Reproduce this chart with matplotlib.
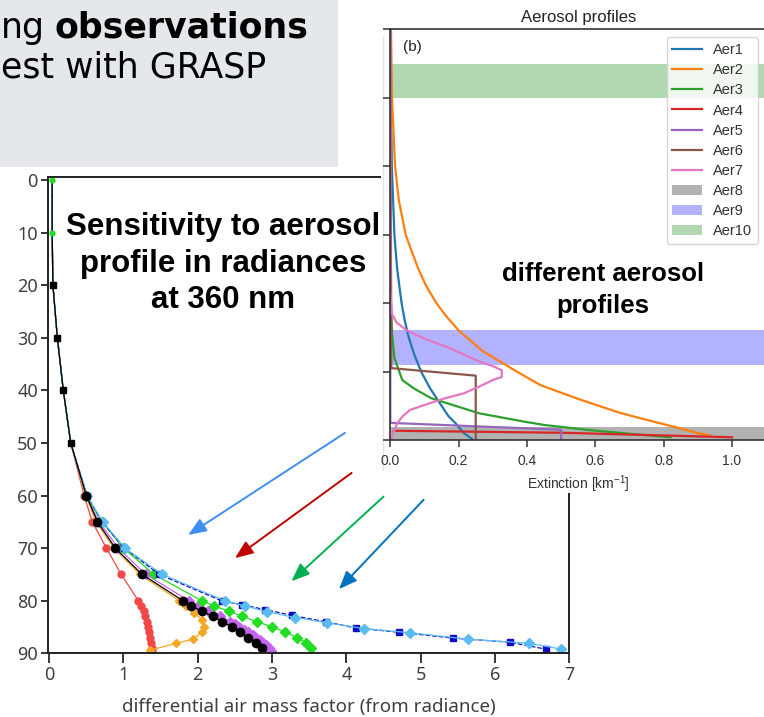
import matplotlib
matplotlib.use("Agg")
import matplotlib.pyplot as plt
from matplotlib.patches import Rectangle
from matplotlib.lines import Line2D

W, H = 764, 717

# ---- left panel: differential AMF vs level (0 = top of the profile) ----
top_levels = [0, 10, 20, 30, 40, 50]
top_amf = [0.04, 0.04, 0.05, 0.11, 0.19, 0.29]

red_levels = [60, 65, 70, 75, 80, 81, 82, 83, 84, 85, 86, 87, 88, 89, 89.5]
red_amf = [0.47, 0.58, 0.77, 0.97, 1.20, 1.24, 1.27, 1.29, 1.32, 1.33, 1.35, 1.36, 1.37, 1.38, 1.39]

orange_levels = [60, 65, 70, 75, 80, 81, 82.4, 83.6, 85, 86, 87.3, 88.1, 89.4]
orange_amf = [0.49, 0.63, 0.87, 1.22, 1.75, 1.84, 1.95, 2.06, 2.09, 2.06, 1.93, 1.71, 1.36]

purple_levels = [60, 65, 70, 75, 80, 81, 82, 83, 84, 84.5, 85, 85.5, 86, 86.5, 87, 87.5, 88, 88.5, 89, 89.5]
purple_amf = [0.50, 0.67, 0.93, 1.30, 1.88, 2.00, 2.14, 2.30, 2.44, 2.50, 2.56, 2.62, 2.68, 2.74,
              2.79, 2.84, 2.88, 2.92, 2.96, 2.99]

green_levels = [60, 65, 70, 75, 80, 81, 82, 83, 84, 85, 86, 87, 88, 89]
green_amf = [0.50, 0.71, 1.00, 1.41, 2.05, 2.22, 2.42, 2.60, 2.80, 3.00, 3.18, 3.34, 3.46, 3.52]

darkblue_levels = [60, 65, 70, 75, 80, 80.8, 81.7, 82.8, 84.0, 85.2, 86.0, 87.1, 87.9, 89.2]
darkblue_amf = [0.51, 0.71, 1.01, 1.48, 2.32, 2.60, 2.91, 3.27, 3.72, 4.13, 4.71, 5.43, 6.20, 6.68]

lightblue_levels = [60, 65, 70, 75, 80, 81, 82.1, 83.2, 84.2, 85.3, 86.1, 87.3, 88.1, 89.2]
lightblue_amf = [0.51, 0.72, 1.02, 1.52, 2.36, 2.64, 2.93, 3.31, 3.74, 4.24, 4.86, 5.63, 6.46, 6.89]

black_levels = [60, 65, 70, 75, 80, 81, 82, 83, 84, 85, 86, 87, 88, 89]
black_amf = [0.50, 0.65, 0.89, 1.25, 1.80, 1.91, 2.06, 2.20, 2.33, 2.46, 2.57, 2.67, 2.78, 2.87]

# arrows (start, tip) in data coords of the left panel
arrows = [((3.98, 48.1), (1.87, 67.5), '#3f8ef0'),
          ((4.07, 55.7), (2.50, 71.9), '#c00000'),
          ((4.50, 60.2), (3.26, 76.3), '#00b050'),
          ((5.04, 60.8), (3.90, 77.8), '#0070c0')]

# ---- right panel: aerosol extinction profiles (altitude in km) ----
aer1_alt = [0.02, 0.1, 0.25, 0.35, 0.5, 0.75, 1.0, 1.25, 1.5, 1.75, 2.0, 2.5, 3.0, 4.0, 5.0, 6.0]
aer1_ext = [0.238, 0.215, 0.19, 0.17, 0.15, 0.117, 0.090, 0.070, 0.054, 0.042, 0.033, 0.020, 0.012,
            0.0045, 0.0017, 0.0006]
aer2_alt = [0.07, 0.1, 0.17, 0.32, 0.4, 0.5, 0.6, 0.8, 1.0, 1.15, 1.3, 1.45, 1.6, 1.8, 2.0, 2.25,
            2.5, 2.75, 3.0, 3.5, 4.0, 5.0, 6.0]
aer2_ext = [0.936, 0.90, 0.848, 0.73, 0.67, 0.61, 0.55, 0.44, 0.37, 0.32, 0.27, 0.235, 0.20, 0.165,
            0.135, 0.105, 0.082, 0.063, 0.045, 0.025, 0.014, 0.005, 0.002]
aer3_alt = [0.04, 0.073, 0.146, 0.22, 0.27, 0.39, 0.5, 0.61, 0.75, 0.876, 1.2, 1.56, 2.0, 3.0, 6.0]
aer3_ext = [0.82, 0.74, 0.58, 0.45, 0.39, 0.26, 0.19, 0.12, 0.07, 0.035, 0.012, 0.005, 0.002, 0.0005, 0.0]
aer4_alt = [0.135, 0.106, 0.04]
aer4_ext = [0.01, 0.5, 1.0]
aer5_alt = [6.0, 0.25, 0.15, 0.02]
aer5_ext = [0.0, 0.0, 0.5, 0.5]
aer6_alt = [6.0, 1.05, 0.94, 0.02]
aer6_ext = [0.0, 0.003, 0.25, 0.25]
aer7_alt = [0.0, 0.05, 0.24, 0.34, 0.44, 0.54, 0.61, 0.68, 0.78, 0.876, 0.92, 1.02, 1.08, 1.14,
            1.25, 1.36, 1.48, 1.6, 1.72, 1.85, 2.2, 6.0]
aer7_ext = [0.003, 0.005, 0.02, 0.035, 0.058, 0.117, 0.16, 0.214, 0.26, 0.30, 0.326, 0.326, 0.30,
            0.263, 0.215, 0.165, 0.10, 0.048, 0.018, 0.004, 0.0, 0.0]
aer8_band = (0.0, 0.19)
aer9_band = (1.1, 1.6)
aer10_band = (5.0, 5.5)

plt.rcParams['font.family'] = ['Liberation Sans', 'DejaVu Sans']
plt.rcParams['mathtext.default'] = 'regular'


def px_axes(x0, y0, x1, y1):
    return [x0 / W, 1 - y1 / H, (x1 - x0) / W, (y1 - y0) / H]


fig = plt.figure(figsize=(W / 100, H / 100), dpi=100)

# slide title box (top left)
fig.patches.append(Rectangle((0, 1 - 167 / H), 338 / W, 167 / H, transform=fig.transFigure,
                             facecolor='#e4e8eb', edgecolor='none', zorder=0))
fig.text(1 / W, 1 - 38 / H, 'ng', fontsize=25, family='DejaVu Sans', va='baseline', zorder=0.5)
fig.text(54 / W, 1 - 38 / H, 'observations', fontsize=25, family='DejaVu Sans',
         fontweight='bold', va='baseline', zorder=0.5)
fig.text(1 / W, 1 - 77 / H, 'est with GRASP', fontsize=25, family='DejaVu Sans',
         va='baseline', zorder=0.5)

# ---------------- left panel ----------------
ax = fig.add_axes(px_axes(47.7, 177.1, 569.3, 653.3), zorder=1)
ax.set_facecolor('none')


def draw_series(levels, amf, color, marker, ms, ls='-'):
    n0 = len(top_levels)
    ax.plot(top_amf + amf, top_levels + levels, color=color, lw=0.9, ls=ls, marker=marker,
            ms=ms, mfc=color, mec=color, markevery=list(range(n0, n0 + len(amf))))


draw_series(red_levels, red_amf, '#f04848', 'o', 5)
draw_series(orange_levels, orange_amf, '#f5a623', 'D', 4.5)
draw_series(purple_levels, purple_amf, '#c464f0', 'D', 5.5)
draw_series(green_levels, green_amf, '#22dd22', 'D', 5)
draw_series(darkblue_levels, darkblue_amf, '#0c0cc4', 's', 5, ls='--')
draw_series(lightblue_levels, lightblue_amf, '#5bbcf2', 'D', 5.5)
draw_series(black_levels, black_amf, 'black', 'o', 6)
ax.plot(top_amf, top_levels, ls='none', marker='o', ms=3.5, color='#22dd22')
ax.plot(top_amf[2:], top_levels[2:], ls='none', marker='s', ms=4.5, color='black')

for start, tip, col in arrows:
    ax.annotate('', xy=tip, xytext=start, annotation_clip=False,
                arrowprops=dict(arrowstyle='-|>,head_length=0.55,head_width=0.22',
                                color=col, lw=1.4, mutation_scale=20,
                                shrinkA=0, shrinkB=0))

ax.set_xlim(-0.02, 7.0)
ax.set_ylim(90, -0.55)
ax.set_xticks(range(8))
ax.set_yticks(range(0, 91, 10))
for s in ax.spines.values():
    s.set_color('#222222')
    s.set_linewidth(1.4)
ax.tick_params(axis='y', length=5, width=1.1, pad=2, labelsize=13, labelcolor='#404040')
ax.tick_params(axis='x', length=7, width=1.1, pad=2, labelsize=13, labelcolor='#404040')
for lab in ax.get_xticklabels() + ax.get_yticklabels():
    lab.set_family('Noto Sans')
ax.set_xlabel('differential air mass factor (from radiance)', fontsize=13.5,
              family='Noto Sans', color='#404040', labelpad=10)
# va='baseline' on multi-line text anchors the last line
ax.text(223 / W, 1 - 308 / H, 'Sensitivity to aerosol\nprofile in radiances\nat 360 nm',
        transform=fig.transFigure, ha='center', va='baseline', fontsize=22.5,
        fontweight='bold', linespacing=1.28)

# white cover of the pasted right figure
fig.patches.append(Rectangle((381 / W, 1 - 493 / H), 383 / W, 493 / H, transform=fig.transFigure,
                             facecolor='white', edgecolor='none', zorder=2))
fig.lines.append(Line2D([383 / W, 383 / W], [1 - 37 / H, 1 - 470 / H], transform=fig.transFigure,
                        color='#e4e4e4', lw=1, zorder=2.1))

# ---------------- right panel ----------------
ax2 = fig.add_axes(px_axes(390.3, 29.3, 766.2, 440), zorder=3)
ax2.set_facecolor('white')
lw = 1.6
l1, = ax2.plot(aer1_ext, aer1_alt, color='C0', lw=lw)
l2, = ax2.plot(aer2_ext, aer2_alt, color='C1', lw=lw)
l3, = ax2.plot(aer3_ext, aer3_alt, color='C2', lw=lw)
l4, = ax2.plot(aer4_ext, aer4_alt, color='C3', lw=lw)
l5, = ax2.plot(aer5_ext, aer5_alt, color='C4', lw=lw)
l6, = ax2.plot(aer6_ext, aer6_alt, color='C5', lw=lw)
l7, = ax2.plot(aer7_ext, aer7_alt, color='C6', lw=lw)
b8 = ax2.axhspan(*aer8_band, color='gray', alpha=0.6, lw=0)
b9 = ax2.axhspan(*aer9_band, color='blue', alpha=0.3, lw=0)
b10 = ax2.axhspan(*aer10_band, color='green', alpha=0.3, lw=0)

ax2.set_xlim(0, 1.1)
ax2.set_ylim(0, 6)
ax2.set_xticks([0.0, 0.2, 0.4, 0.6, 0.8, 1.0])
ax2.set_yticks(range(7))
ax2.set_yticklabels([])
for s in ax2.spines.values():
    s.set_color('#333333')
    s.set_linewidth(1.2)
ax2.tick_params(direction='out', length=5, width=1.1, color='#333333', labelsize=10,
                labelcolor='#333333', pad=5)
ax2.set_xlabel('Extinction [km$^{-1}$]', fontsize=10, color='#333333', labelpad=4)
ax2.set_title('Aerosol profiles', fontsize=12, color='#222222', pad=5.5)
ax2.text(403 / W, 1 - 51 / H, '(b)', transform=fig.transFigure, fontsize=11,
         color='#222222', va='baseline')
ax2.text(603 / W, 1 - 312.7 / H, 'different aerosol\nprofiles', transform=fig.transFigure,
         ha='center', va='baseline', fontsize=18.5, fontweight='bold', linespacing=1.38)

handles = [l1, l2, l3, l4, l5, l6, l7, b8, b9, b10]
labels = ['Aer1', 'Aer2', 'Aer3', 'Aer4', 'Aer5', 'Aer6', 'Aer7', 'Aer8', 'Aer9', 'Aer10']
leg = ax2.legend(handles, labels, loc='upper right', fontsize=10.5, labelspacing=0.42,
                 handlelength=2.0, borderaxespad=0.55, framealpha=0.8, edgecolor='#cccccc')
for t in leg.get_texts():
    t.set_color('#333333')

fig.savefig('out.png', dpi=100)
